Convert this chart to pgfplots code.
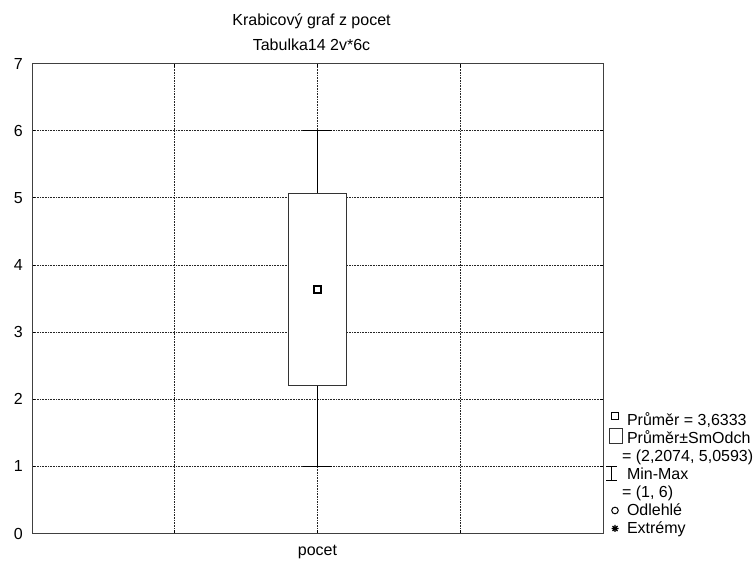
\documentclass[border=0pt]{standalone}
\usepackage{fontspec}
\setmainfont{Liberation Sans}
\usepackage{pgfplots}
\pgfplotsset{compat=1.18}
\newcommand{\cf}{\fontsize{16bp}{19bp}\selectfont}
\begin{document}
\begin{tikzpicture}
\useasboundingbox (0,0) rectangle (755bp,561bp);
\begin{axis}[
  at={(32bp,27.5bp)}, anchor=south west,
  width=571bp, height=470bp, scale only axis,
  xmin=0, xmax=4, ymin=0, ymax=7,
  xtick={1,2,3}, xticklabels={,pocet,},
  ytick={0,1,...,7},
  grid=major,
  grid style={black!85, line width=0.6bp, dash pattern=on 0.8bp off 0.8bp},
  axis line style={black!75, line width=1bp},
  tick style={black, line width=0.8bp},
  tick align=inside, major tick length=3bp,
  /pgf/number format/assume math mode=true,
  tick label style={font=\cf},
  yticklabel style={anchor=east, inner sep=0pt, xshift=-9bp},
  xticklabel style={anchor=base, inner sep=0pt, yshift=-21.5bp},
  legend style={at={(axis description cs:1.00525,0.2564)}, anchor=north west,
    draw=none, fill=none, inner sep=0pt, outer sep=0pt, row sep=0pt, column sep=0pt,
    font=\cf, nodes={inner sep=0pt, outer sep=0pt, text height=13bp, text depth=5bp}},
  legend cell align=left,
  clip=false,
]
% whisker
\addplot[forget plot, black, line width=1.2bp] coordinates {(2,1) (2,6)};
% box mean +- SD
\addplot[forget plot, draw=black!80, fill=white, line width=1bp] coordinates {(1.8,2.2074) (2.2,2.2074) (2.2,5.0593) (1.8,5.0593)} -- cycle;
% caps
\addplot[forget plot, black, line width=1.2bp] coordinates {(1.895,6) (2.105,6)};
\addplot[forget plot, black, line width=1.2bp] coordinates {(1.895,1) (2.105,1)};
% mean
\addplot[forget plot, only marks, mark=square, mark size=3.5bp, black, mark options={line width=1.2bp}] coordinates {(2,3.6333)};

\addlegendimage{legend image code/.code={\path[draw=none,fill=none] (0,0) -- (21bp,0); \draw[overlay, black, line width=1bp] (5.5bp,2bp) rectangle (12.5bp,9bp);}}
\addlegendentry{Průměr = 3,6333}
\addlegendimage{legend image code/.code={\path[draw=none,fill=none] (0,0) -- (21bp,0); \draw[overlay, black!80, line width=1bp] (3.3bp,-3.5bp) rectangle (16bp,11.5bp);}}
\addlegendentry{Průměr±SmOdch}
\addlegendimage{legend image code/.code={\path[draw=none,fill=none] (0,0) -- (21bp,0);}}
\addlegendentry{\hspace*{-5bp}= (2,2074, 5,0593)}
\addlegendimage{legend image code/.code={\path[draw=none,fill=none] (0,0) -- (21bp,0); \draw[overlay, black, line width=1bp] (0,-4.5bp) -- (11bp,-4.5bp) (0,9bp) -- (11bp,9bp) (5.5bp,-4.5bp) -- (5.5bp,9bp);}}
\addlegendentry{Min-Max}
\addlegendimage{legend image code/.code={\path[draw=none,fill=none] (0,0) -- (21bp,0);}}
\addlegendentry{\hspace*{-5bp}= (1, 6)}
\addlegendimage{legend image code/.code={\path[draw=none,fill=none] (0,0) -- (21bp,0); \draw[overlay, black, line width=1bp] (9bp,1.5bp) circle[radius=3.3bp];}}
\addlegendentry{Odlehlé}
\addlegendimage{legend image code/.code={\path[draw=none,fill=none] (0,0) -- (21bp,0); \draw[overlay, black, line width=1.3bp] (5.5bp,1.5bp) -- (12.5bp,1.5bp) (9bp,-2bp) -- (9bp,5bp) (6.5bp,-1bp) -- (11.5bp,4bp) (6.5bp,4bp) -- (11.5bp,-1bp);}}
\addlegendentry{Extrémy}

\node[anchor=base, font=\cf, inner sep=0pt] at (axis description cs:0.4895,1.0798) {Krabicový graf z pocet};
\node[anchor=base, font=\cf, inner sep=0pt] at (axis description cs:0.4895,1.0287) {Tabulka14 2v*6c};
\end{axis}
\end{tikzpicture}
\end{document}
